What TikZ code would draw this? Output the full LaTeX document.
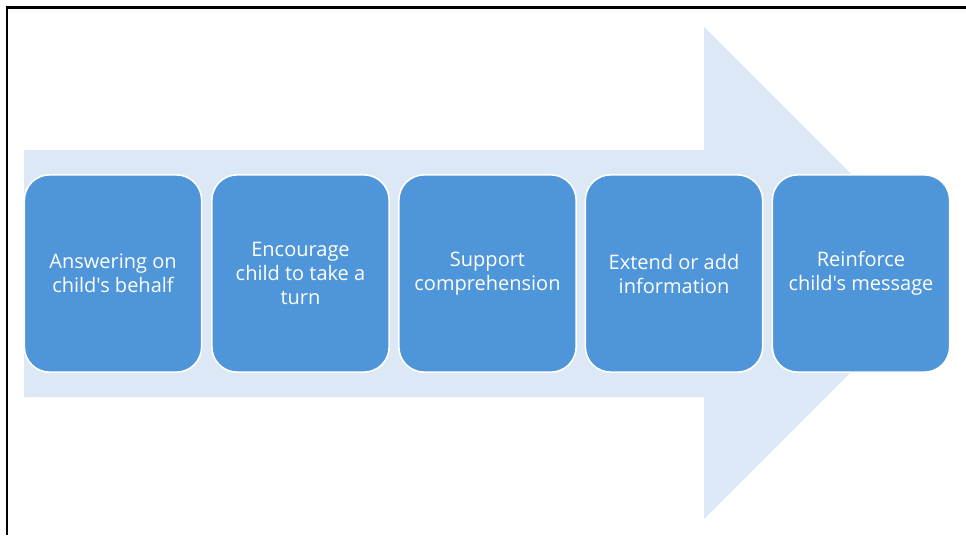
\documentclass[tikz,border=0pt]{standalone}
\usepackage{fontspec}
\setmainfont{Open Sans}[Ligatures=TeXOff]
\definecolor{stepblue}{HTML}{4E95D9}
\definecolor{arrowpale}{HTML}{DDE8F6}
\tikzset{
  stepbox/.style={draw=white, line width=1.2pt, fill=stepblue, rounded corners=19pt,
    minimum width=133pt, minimum height=148pt, inner sep=0pt, align=center,
    text=white, font=\fontsize{15pt}{18pt}\selectfont},
  frameline/.style={line width=2pt, black}
}
\begin{document}
\begin{tikzpicture}[x=0.75pt, y=-0.75pt]
  \useasboundingbox (0,0) rectangle (966,535);
  % page frame (top and left edges)
  \draw[frameline] (966,7.5) -- (7,7.5) -- (7,535);
  % background block arrow
  \fill[arrowpale] (24,150) -- (704,150) -- (704,27) -- (950,273) -- (704,519)
    -- (704,397) -- (24,397) -- cycle;
  % process steps
  \node[stepbox] (s1) at (113,273.5) {Answering on\\child's behalf};
  \node[stepbox] (s2) at (300.5,273.5) {Encourage\\child to take a\\turn};
  \node[stepbox] (s3) at (487.5,273.5) {Support\\comprehension};
  \node[stepbox] (s4) at (674,273.5) {Extend or add\\information};
  \node[stepbox] (s5) at (861,273.5) {Reinforce\\child's message};
\end{tikzpicture}
\end{document}
